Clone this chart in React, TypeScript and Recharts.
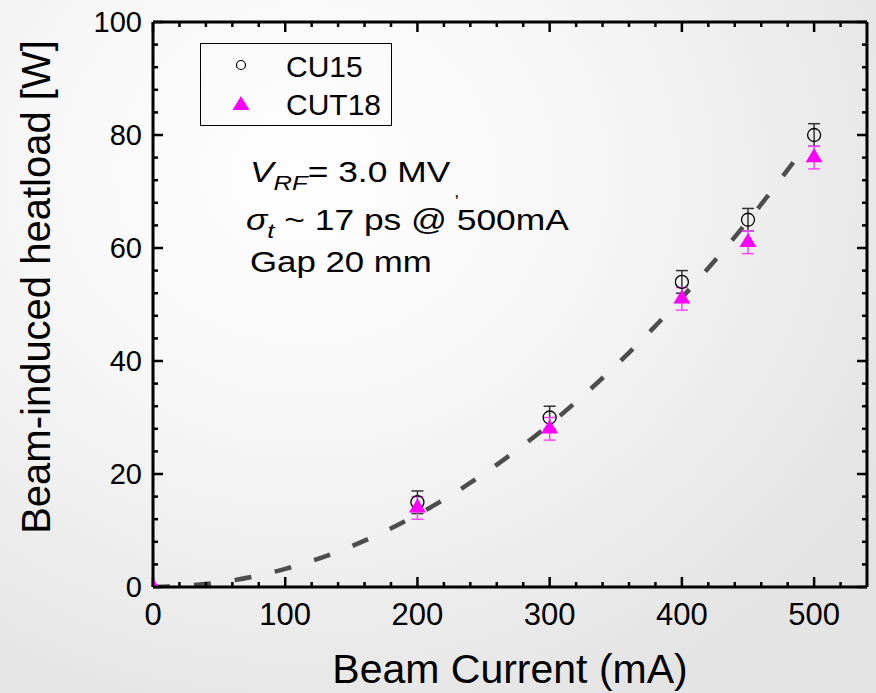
import React from 'react';
import { ComposedChart, XAxis, YAxis, Scatter, Line, ErrorBar, Legend } from 'recharts';

// ---------- data ----------
const cu15Current = [200, 300, 400, 450, 500];
const cu15Heat = [15, 30, 54, 65, 80];
const cu15Err = [2, 2, 2, 2, 2];

const cut18Current = [0, 200, 300, 400, 450, 500];
const cut18Heat = [0, 14, 28, 51, 61, 76];
const cut18Err = [0, 2, 2, 2, 2, 2];

const fitCurrent = [0, 50, 100, 150, 200, 250, 300, 350, 400, 450, 495];
const fitHeat = [0, 0.8, 3.2, 7.2, 12.8, 20, 28.8, 39.2, 51.2, 64.8, 78.5];

const xTicks = [0, 20, 40, 60, 80, 100, 120, 140, 160, 180, 200, 220, 240, 260, 280, 300, 320, 340, 360, 380, 400, 420, 440, 460, 480, 500, 520];
const xMajor = [0, 100, 200, 300, 400, 500];
const yTicks = [0, 4, 8, 12, 16, 20, 24, 28, 32, 36, 40, 44, 48, 52, 56, 60, 64, 68, 72, 76, 80, 84, 88, 92, 96, 100];
const yMajor = [0, 20, 40, 60, 80, 100];

const cu15Data = cu15Current.map((x, i) => ({ x, y: cu15Heat[i], err: cu15Err[i] }));
const cut18Data = cut18Current.map((x, i) => ({ x, y: cut18Heat[i], err: cut18Err[i] }));
const fitData = fitCurrent.map((x, i) => ({ x, y: fitHeat[i] }));

const FONT = '"Liberation Sans", Arial, sans-serif';
const MAJOR = 10;
const MINOR = 5;
const TICK_W = 2.5;

const BottomTick = (p: any) => {
  const v = p.payload.value;
  const major = xMajor.includes(v);
  return (
    <g>
      <line x1={p.x} x2={p.x} y1={p.y} y2={p.y - (major ? MAJOR : MINOR)} stroke="#000" strokeWidth={TICK_W} />
      {major && (
        <text x={p.x} y={p.y + 38} textAnchor="middle" fontSize={31} fontFamily={FONT} fill="#000">
          {v}
        </text>
      )}
    </g>
  );
};
const TopTick = (p: any) => {
  const major = xMajor.includes(p.payload.value);
  return <line x1={p.x} x2={p.x} y1={p.y} y2={p.y + (major ? MAJOR : MINOR)} stroke="#000" strokeWidth={TICK_W} />;
};
const LeftTick = (p: any) => {
  const v = p.payload.value;
  const major = yMajor.includes(v);
  return (
    <g>
      <line x1={p.x} x2={p.x + (major ? MAJOR : MINOR)} y1={p.y} y2={p.y} stroke="#000" strokeWidth={TICK_W} />
      {major && (
        <text x={p.x - 11} y={p.y + 10} textAnchor="end" fontSize={29} fontFamily={FONT} fill="#000">
          {v}
        </text>
      )}
    </g>
  );
};
const RightTick = (p: any) => {
  const major = yMajor.includes(p.payload.value);
  return <line x1={p.x} x2={p.x - (major ? MAJOR : MINOR)} y1={p.y} y2={p.y} stroke="#000" strokeWidth={TICK_W} />;
};

const CircleShape = (p: any) => (
  <circle cx={p.cx} cy={p.cy} r={6.5} fill="none" stroke="#000" strokeWidth={1.3} />
);
const TriangleShape = (p: any) => (
  <polygon
    points={`${p.cx},${p.cy - 9.3} ${p.cx + 8.5},${p.cy + 4.7} ${p.cx - 8.5},${p.cy + 4.7}`}
    fill="#ff00ff"
  />
);

const XTitle = (p: any) => {
  const vb = p.viewBox;
  return (
    <text x={vb.x + vb.width / 2} y={vb.y + 96} textAnchor="middle" fontSize={41} fontFamily={FONT} fill="#000">
      Beam Current (mA)
    </text>
  );
};
const YTitle = (p: any) => {
  const vb = p.viewBox;
  const cx = vb.x + vb.width - 103;
  const cy = vb.y + 265;
  return (
    <text x={cx} y={cy} transform={`rotate(-90 ${cx} ${cy})`} textAnchor="middle" fontSize={40} fontFamily={FONT} fill="#000">
      Beam-induced heatload [W]
    </text>
  );
};

const LegendContent = (props: any) => {
  const items = (props.payload || []).filter((e: any) => e.type !== 'none');
  return (
    <div style={{ width: 190, height: 81, border: '1.3px solid #000', background: 'transparent' }}>
      <svg width={190} height={81} style={{ display: 'block' }}>
        {items.map((e: any, i: number) => {
          const cy = 21 + i * 38;
          return (
            <g key={e.value}>
              {i === 0 ? (
                <circle cx={40} cy={cy} r={4.5} fill="none" stroke="#000" strokeWidth={1.2} />
              ) : (
                <polygon points={`40,${cy - 7} ${48.5},${cy + 7} ${31.5},${cy + 7}`} fill="#ff00ff" />
              )}
              <text x={85} y={cy + 12} fontSize={30} fontFamily={FONT} fill="#000">
                {e.value}
              </text>
            </g>
          );
        })}
      </svg>
    </div>
  );
};

export default function App() {
  return (
    <div
      style={{
        position: 'absolute',
        left: 0,
        top: 0,
        width: 876,
        height: 693,
        overflow: 'hidden',
        background: 'radial-gradient(ellipse 75% 85% at 35% 25%, #ffffff 0%, #f6f6f6 45%, #e4e4e4 100%)',
        fontFamily: FONT,
      }}
    >
      <ComposedChart width={876} height={693} margin={{ top: 21, right: 8, bottom: 105, left: 152 }}>
        <XAxis
          xAxisId="b"
          type="number"
          dataKey="x"
          domain={[0, 540]}
          ticks={xTicks}
          interval={0}
          height={1}
          tickSize={0}
          tickMargin={0}
          tickLine={false}
          axisLine={{ stroke: '#000', strokeWidth: 3 }}
          tick={<BottomTick />}
          allowDataOverflow
          label={{ content: <XTitle /> }}
        />
        <XAxis
          xAxisId="t"
          orientation="top"
          type="number"
          dataKey="x"
          domain={[0, 540]}
          ticks={xTicks}
          interval={0}
          height={1}
          tickSize={0}
          tickMargin={0}
          tickLine={false}
          axisLine={{ stroke: '#000', strokeWidth: 3 }}
          tick={<TopTick />}
          allowDataOverflow
        />
        <YAxis
          yAxisId="l"
          type="number"
          domain={[0, 100]}
          ticks={yTicks}
          interval={0}
          width={1}
          tickSize={0}
          tickMargin={0}
          tickLine={false}
          axisLine={{ stroke: '#000', strokeWidth: 3 }}
          tick={<LeftTick />}
          allowDataOverflow
          label={{ content: <YTitle /> }}
        />
        <YAxis
          yAxisId="r"
          orientation="right"
          type="number"
          domain={[0, 100]}
          ticks={yTicks}
          interval={0}
          width={1}
          tickSize={0}
          tickMargin={0}
          tickLine={false}
          axisLine={{ stroke: '#000', strokeWidth: 3 }}
          tick={<RightTick />}
          allowDataOverflow
        />
        <Scatter
          name="CU15"
          xAxisId="b"
          yAxisId="l"
          data={cu15Data}
          dataKey="y"
          shape={<CircleShape />}
          fill="#000"
          isAnimationActive={false}
        >
          <ErrorBar dataKey="err" direction="y" width={6} stroke="#333" strokeWidth={1.5} isAnimationActive={false} />
        </Scatter>
        <Line
          xAxisId="b"
          yAxisId="l"
          data={fitData}
          dataKey="y"
          type="monotone"
          stroke="#4d4d4d"
          strokeWidth={4.5}
          strokeDasharray="17 24"
          dot={false}
          activeDot={false}
          legendType="none"
          isAnimationActive={false}
        />
        <Scatter
          name="CUT18"
          xAxisId="b"
          yAxisId="l"
          data={cut18Data}
          dataKey="y"
          shape={<TriangleShape />}
          fill="#ff00ff"
          isAnimationActive={false}
        >
          <ErrorBar dataKey="err" direction="y" width={6} stroke="#ff44ff" strokeWidth={1.5} isAnimationActive={false} />
        </Scatter>
        <Legend
          layout="vertical"
          align="center"
          verticalAlign="middle"
          content={<LegendContent />}
          wrapperStyle={{ position: 'absolute', left: 200, top: 43, width: 192, height: 83 }}
        />
      </ComposedChart>
      <svg
        width={876}
        height={693}
        style={{ position: 'absolute', left: 0, top: 0, pointerEvents: 'none' }}
        fontFamily={FONT}
      >
        <text transform="translate(250,182) scale(1.22,1)" fontSize={29} fill="#000">
          <tspan fontStyle="italic">V</tspan>
          <tspan fontStyle="italic" fontSize={21} dy={8}>RF</tspan>
          <tspan dy={-8}>= 3.0 MV</tspan>
          <tspan fontSize={16} dx={3} dy={15}>,</tspan>
        </text>
        <text transform="translate(246,230) scale(1.22,1)" fontSize={29} fill="#000">
          <tspan fontStyle="italic">σ</tspan>
          <tspan fontStyle="italic" fontSize={21} dy={8}>t</tspan>
          <tspan dy={-8}> ~ 17 ps @ 500mA</tspan>
        </text>
        <text transform="translate(250,272) scale(1.2,1)" fontSize={29} fill="#000">
          Gap 20 mm
        </text>
      </svg>
    </div>
  );
}
